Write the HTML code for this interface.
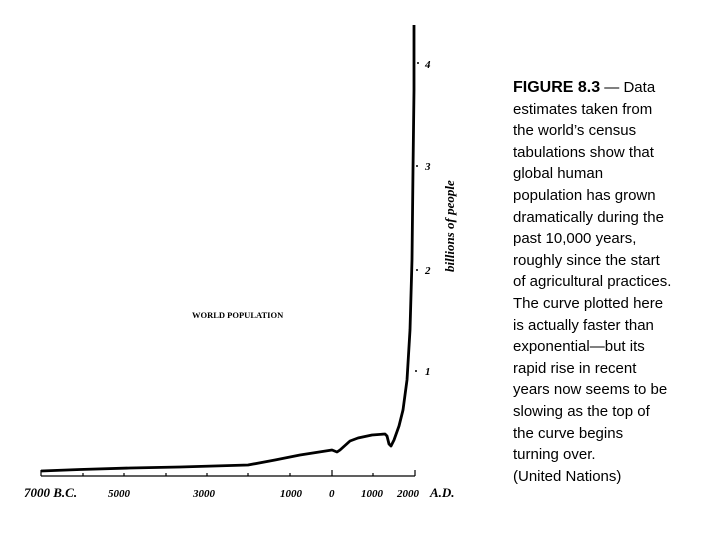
<!DOCTYPE html>
<html><head><meta charset="utf-8"><style>
body{margin:0;width:720px;height:540px;background:#fff;overflow:hidden;position:relative}
.cap{position:absolute;left:513px;top:77px;font-family:"Liberation Sans",sans-serif;font-size:15px;line-height:21.6px;color:#000;white-space:nowrap}
</style></head><body>
<svg width="720" height="540" style="position:absolute;left:0;top:0">
<g stroke="#000" fill="none">
<path d="M41,476 H415" stroke-width="1.2"/>
<path d="M41,470 V476 M83,473 V476 M124,473 V476 M166,473 V476 M207,473 V476 M248,473 V476 M290,473 V476 M332,470 V476 M373,473 V476 M415,470 V476" stroke-width="1.2"/>
<path d="M41,471 L80,469.5 L130,468 L180,467 L248,465 L275,460 L300,455 L332,450 L337,452 L340,450 L350,441 L358,438 L372,435 L385,434 L387,436 L389,444 L391,446 L394,440 L399,426 L403,410 L407,380 L410,330 L412,260 L413,170 L414,90 L414,25" stroke-width="2.8" stroke-linejoin="round"/>
</g>
<g fill="#000">
<circle cx="418" cy="63" r="1"/><circle cx="417" cy="166" r="1"/><circle cx="417" cy="270" r="1"/><circle cx="416" cy="371" r="1"/>
</g>
<g font-family="Liberation Serif,serif" font-style="italic" font-weight="bold" font-size="11" fill="#000">
<text x="425" y="68">4</text><text x="425" y="170">3</text><text x="425" y="274">2</text><text x="425" y="375">1</text>
<text x="454" y="272" transform="rotate(-90 454 272)" font-size="13">billions of people</text>
<text x="24" y="497" font-size="13">7000 B.C.</text>
<text x="108" y="497">5000</text>
<text x="193" y="497">3000</text>
<text x="280" y="497">1000</text>
<text x="329" y="497">0</text>
<text x="361" y="497">1000</text>
<text x="397" y="497">2000</text>
<text x="430" y="497" font-size="13">A.D.</text>
</g>
<text x="192" y="318" font-family="Liberation Serif,serif" font-weight="bold" font-size="8.5" fill="#000">WORLD POPULATION</text>
</svg>
<div class="cap"><b style="font-size:16px">FIGURE 8.3</b> — Data<br>estimates taken from<br>the world’s census<br>tabulations show that<br>global human<br>population has grown<br>dramatically during the<br>past 10,000 years,<br>roughly since the start<br>of agricultural practices.<br>The curve plotted here<br>is actually faster than<br>exponential—but its<br>rapid rise in recent<br>years now seems to be<br>slowing as the top of<br>the curve begins<br>turning over.<br>(United Nations)</div>
</body></html>
